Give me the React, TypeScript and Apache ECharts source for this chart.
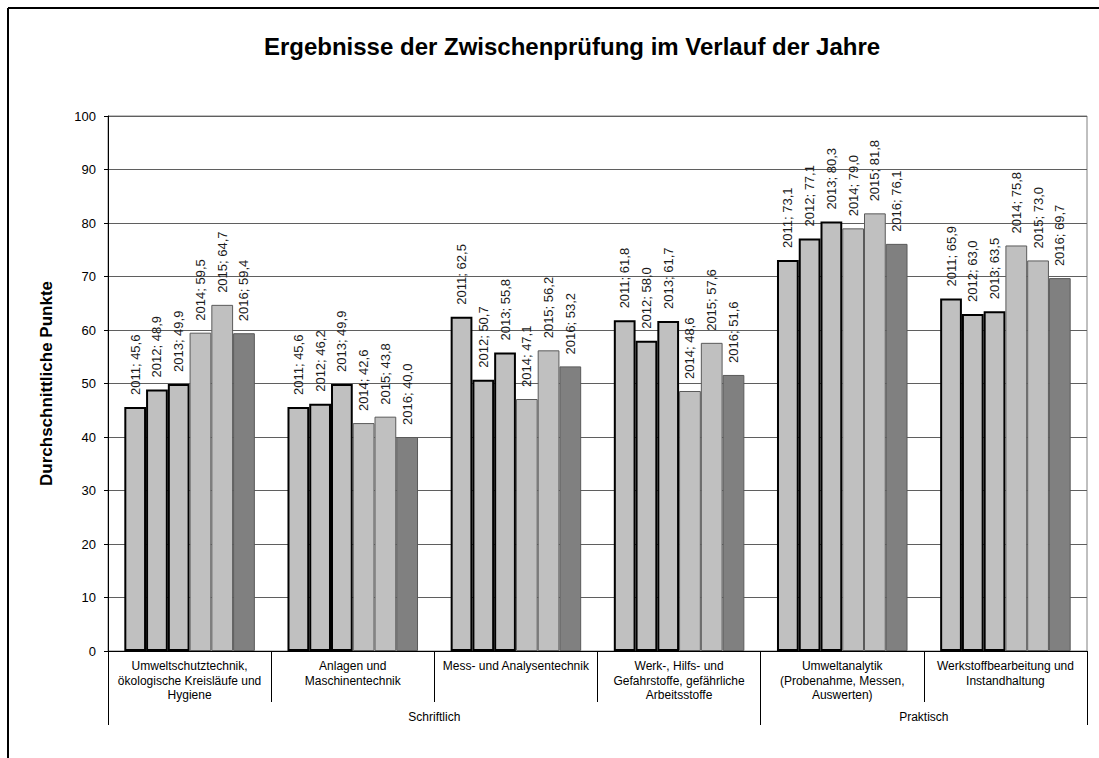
import React, { useEffect, useRef } from "react";
import * as echarts from "echarts";

const title = "Ergebnisse der Zwischenprüfung im Verlauf der Jahre";
const yAxisName = "Durchschnittliche Punkte";

const categories = [
  "Umweltschutztechnik,\nökologische Kreisläufe und\nHygiene",
  "Anlagen und\nMaschinentechnik",
  "Mess- und Analysentechnik",
  "Werk-, Hilfs- und\nGefahrstoffe, gefährliche\nArbeitsstoffe",
  "Umweltanalytik\n(Probenahme, Messen,\nAuswerten)",
  "Werkstoffbearbeitung und\nInstandhaltung",
];

const groupLabels = ["Schriftlich", "Praktisch"];
const groupCenters = [2, 5];
const groupBounds = [0, 4, 6];

const years = ["2011", "2012", "2013", "2014", "2015", "2016"];

const v2011 = [45.6, 45.6, 62.5, 61.8, 73.1, 65.9];
const v2012 = [48.9, 46.2, 50.7, 58.0, 77.1, 63.0];
const v2013 = [49.9, 49.9, 55.8, 61.7, 80.3, 63.5];
const v2014 = [59.5, 42.6, 47.1, 48.6, 79.0, 75.8];
const v2015 = [64.7, 43.8, 56.2, 57.6, 81.8, 73.0];
const v2016 = [59.4, 40.0, 53.2, 51.6, 76.1, 69.7];

const seriesValues = [v2011, v2012, v2013, v2014, v2015, v2016];

const FONT = "'Liberation Sans', Arial, sans-serif";

const barStyles = [
  { color: "#C0C0C0", borderColor: "#000000", borderWidth: 2 },
  { color: "#C0C0C0", borderColor: "#000000", borderWidth: 2 },
  { color: "#C0C0C0", borderColor: "#000000", borderWidth: 2 },
  { color: "#C0C0C0", borderColor: "#5a5a5a", borderWidth: 1 },
  { color: "#C0C0C0", borderColor: "#5a5a5a", borderWidth: 1 },
  { color: "#808080", borderColor: "#5a5a5a", borderWidth: 1 },
];

export default function App() {
  const ref = useRef<HTMLDivElement>(null);

  useEffect(() => {
    if (!ref.current) return;
    const chart = echarts.init(ref.current, undefined, { renderer: "svg" });

    const series = years.map((year, i) => ({
      name: year,
      type: "bar",
      xAxisIndex: 0,
      yAxisIndex: 0,
      data: seriesValues[i],
      barGap: "0%",
      barCategoryGap: "20%",
      itemStyle: barStyles[i],
      label: {
        show: true,
        position: "top",
        rotate: 90,
        align: "left",
        verticalAlign: "middle",
        distance: 12,
        fontFamily: FONT,
        fontSize: 13,
        color: "#1a1a1a",
        formatter: (p: any) =>
          `${year}; ${Number(p.value).toFixed(1).replace(".", ",")}`,
      },
    }));

    chart.setOption({
      animation: false,
      backgroundColor: "#ffffff",
      title: {
        text: title,
        left: 567,
        top: 29,
        textAlign: "center",
        textStyle: {
          fontFamily: FONT,
          fontSize: 24,
          fontWeight: "bold",
          color: "#000",
        },
      },
      grid: {
        left: 108,
        top: 116,
        right: 12,
        bottom: 107,
        show: true,
        backgroundColor: "#ffffff",
        borderColor: "#808080",
        borderWidth: 1,
      },
      xAxis: [
        {
          type: "category",
          data: categories,
          position: "bottom",
          axisLine: { show: true, lineStyle: { color: "#000", width: 1 } },
          axisTick: {
            show: true,
            interval: 0,
            length: 51,
            lineStyle: { color: "#000", width: 1 },
          },
          axisLabel: {
            interval: 0,
            margin: 8,
            fontFamily: FONT,
            fontSize: 12,
            lineHeight: 14.5,
            color: "#000",
          },
          splitLine: { show: false },
        },
        {
          type: "value",
          min: 0,
          max: 6,
          position: "bottom",
          axisLine: { show: false },
          splitLine: { show: false },
          axisTick: {
            show: true,
            customValues: groupBounds,
            length: 74,
            lineStyle: { color: "#000", width: 1 },
          },
          axisLabel: {
            show: true,
            customValues: groupCenters,
            margin: 60,
            fontFamily: FONT,
            fontSize: 12,
            color: "#000",
            formatter: (v: number) => groupLabels[groupCenters.indexOf(v)] ?? "",
          },
        },
      ],
      yAxis: {
        type: "value",
        min: 0,
        max: 100,
        interval: 10,
        name: yAxisName,
        nameLocation: "middle",
        nameGap: 53,
        nameTextStyle: {
          fontFamily: FONT,
          fontSize: 17,
          fontWeight: "bold",
          color: "#000",
        },
        axisLine: { show: true, lineStyle: { color: "#000", width: 1 } },
        axisTick: { show: true, length: 4, lineStyle: { color: "#000" } },
        axisLabel: {
          margin: 12,
          fontFamily: FONT,
          fontSize: 13,
          color: "#000",
        },
        splitLine: { show: true, lineStyle: { color: "#5f5f5f", width: 1 } },
      },
      series,
      graphic: [
        {
          type: "line",
          shape: { x1: 8, y1: 8, x2: 1099, y2: 8 },
          style: { stroke: "#000", lineWidth: 2 },
          silent: true,
        },
        {
          type: "line",
          shape: { x1: 8, y1: 8, x2: 8, y2: 758 },
          style: { stroke: "#000", lineWidth: 2 },
          silent: true,
        },
      ],
    });

    return () => chart.dispose();
  }, []);

  return (
    <div
      ref={ref}
      style={{
        position: "absolute",
        left: 0,
        top: 0,
        width: 1099,
        height: 758,
      }}
    />
  );
}
